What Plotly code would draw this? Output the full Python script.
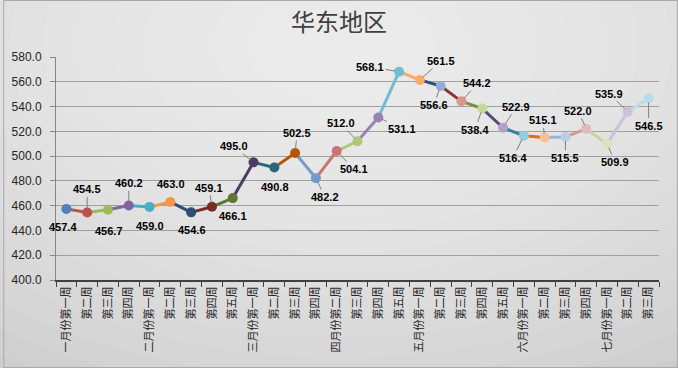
import plotly.graph_objects as go

# ---- data ----
week_labels = [
    "一月份第一周", "第二周", "第三周", "第四周",
    "二月份第一周", "第二周", "第三周", "第四周", "第五周",
    "三月份第一周", "第二周", "第三周", "第四周",
    "四月份第二周", "第三周", "第四周", "第五周",
    "五月份第一周", "第二周", "第三周", "第四周", "第五周",
    "六月份第一周", "第二周", "第三周", "第四周",
    "七月份第一周", "第二周", "第三周",
]
prices = [457.4, 454.5, 456.7, 460.2, 459.0, 463.0, 454.6, 459.1, 466.1,
          495.0, 490.8, 502.5, 482.2, 504.1, 512.0, 531.1, 568.1, 561.5,
          556.6, 544.2, 538.4, 522.9, 516.4, 515.1, 515.5, 522.0, 509.9,
          535.9, 546.5]
y_ticks = [400, 420, 440, 460, 480, 500, 520, 540, 560, 580]

# ---- styles ----
marker_colors = ["#4F81BD", "#C0504D", "#9BBB59", "#8064A2", "#4BACC6", "#F79646",
                 "#2C4D75", "#772C2A", "#5F7530", "#4D3B62", "#276A7C", "#B65708",
                 "#729ACA", "#CD7371", "#AFC97A", "#9983B5", "#6FBDD1", "#F9AB6B",
                 "#98ACD6", "#D99694", "#C3D69B", "#B3A2C7", "#93CDDD", "#FAC090",
                 "#B9CDE5", "#E6B9B8", "#D7E4BD", "#CCC1DA", "#B7DEE8"]
line_colors = ["#4F81BD", "#C0504D", "#9BBB59", "#8064A2", "#4BACC6", "#F79646",
               "#2C4D75", "#772C2A", "#5F7530", "#4D3B62", "#276A7C", "#B65708",
               "#729ACA", "#CD7371", "#AFC97A", "#9983B5", "#6FBDD1", "#F9AB6B",
               "#2F4F80", "#8E3532", "#77933C", "#5C4776", "#31859C", "#E46C0A",
               "#95B3D7", "#D99694", "#C3D69B", "#CCC1DA", "#B7DEE8"]
label_offsets = [(-3, 18), (0, -23), (1, 21), (0, -22), (0, 19), (1, -18), (1, 18),
                 (-3, -19), (0, 18), (-20, -16), (1, 19), (2, -20), (9, 19), (17, 18),
                 (-17, -18), (24, 11), (-29, -5), (21, -19), (-7, 19), (16, -18),
                 (-7, 21), (13, -21), (-11, 22), (-2, -17), (0, 21), (-8, -18),
                 (8, 18), (-19, -18), (0, 27)]
leader = [False, True, False, True, False, False, False, True, False, True, False,
          True, True, True, True, True, True, True, True, True, True, True, True,
          True, True, True, True, True, True]

xs = list(range(len(prices)))
fig = go.Figure()

for i in range(1, len(prices)):
    fig.add_trace(go.Scatter(
        x=[xs[i - 1], xs[i]], y=[prices[i - 1], prices[i]], mode="lines",
        line=dict(color=line_colors[i], width=3), hoverinfo="skip", showlegend=False))

fig.add_trace(go.Scatter(
    x=xs, y=prices, mode="markers",
    marker=dict(size=10, color=marker_colors, line=dict(width=0)),
    showlegend=False))

annotations = []
for i, v in enumerate(prices):
    dx, dy = label_offsets[i]
    common = dict(x=xs[i], y=v, xref="x", yref="y", text=f"<b>{v:.1f}</b>",
                  font=dict(family="Liberation Sans, Arial", size=11, color="#000000"))
    if leader[i]:
        annotations.append(dict(**common, showarrow=True, arrowhead=0, arrowwidth=1,
                                arrowcolor="#7f7f7f", standoff=4, ax=dx, ay=dy))
    else:
        annotations.append(dict(**common, showarrow=False, xshift=dx, yshift=-dy))

# background gradient made of stacked translucent ellipses
L, R, T, B = 53, 659, 57, 280
pw, ph = float(R - L), float(B - T)


def px_to_paper(xp, yp):
    return (xp - L) / pw, (B - yp) / ph


shapes = []
cx, cy = px_to_paper(339, 45)
n = 18
for k in range(n):
    rx = (60 + k * 34) / pw
    ry = (40 + k * 21) / ph
    shapes.append(dict(type="circle", xref="paper", yref="paper",
                       x0=cx - rx, x1=cx + rx, y0=cy - ry, y1=cy + ry,
                       fillcolor="white", opacity=0.07, line=dict(width=0), layer="below"))
bx0, by0 = px_to_paper(0.5, 367.5)
bx1, by1 = px_to_paper(677.5, 0.5)
shapes.append(dict(type="rect", xref="paper", yref="paper", x0=bx0, x1=bx1, y0=by0, y1=by1,
                   line=dict(color="#a8a8a8", width=1), fillcolor="rgba(0,0,0,0)", layer="below"))

fig.update_layout(
    width=678, height=368,
    margin=dict(l=L, r=678 - R, t=T, b=368 - B),
    paper_bgcolor="#cacaca",
    plot_bgcolor="rgba(0,0,0,0)",
    title=dict(text="华东地区", x=0.5, xref="container", y=1 - 23 / 368, yref="container",
               xanchor="center", yanchor="middle",
               font=dict(family="Noto Sans CJK SC", size=24, color="#404040")),
    showlegend=False,
    annotations=annotations,
    shapes=shapes,
    xaxis=dict(
        range=[-0.5, len(prices) - 0.5], tickmode="array", tickvals=xs, ticktext=week_labels,
        tickangle=-90, ticks="", showgrid=False, zeroline=False,
        showline=True, linecolor="#404040", linewidth=2,
        tickfont=dict(family="Noto Sans CJK SC", size=11, color="#262626"),
        minor=dict(tickvals=[i - 0.5 for i in range(len(prices) + 1)], ticks="outside",
                   ticklen=5, tickcolor="#404040", tickwidth=1, showgrid=False),
    ),
    yaxis=dict(
        range=[400, 580], tickmode="array", tickvals=y_ticks,
        ticktext=[f"{t:.1f}" for t in y_ticks],
        showgrid=True, gridcolor="#a0a0a0", gridwidth=1, zeroline=False,
        showline=True, linecolor="#868686", linewidth=1,
        ticks="outside", ticklen=5, tickcolor="#868686", ticklabelstandoff=6,
        tickfont=dict(family="Liberation Sans, Arial", size=12, color="#262626"),
    ),
)

fig.write_html("out.html", config={"displayModeBar": False},
               post_script="document.body.style.margin='0';document.body.style.overflow='hidden';")
